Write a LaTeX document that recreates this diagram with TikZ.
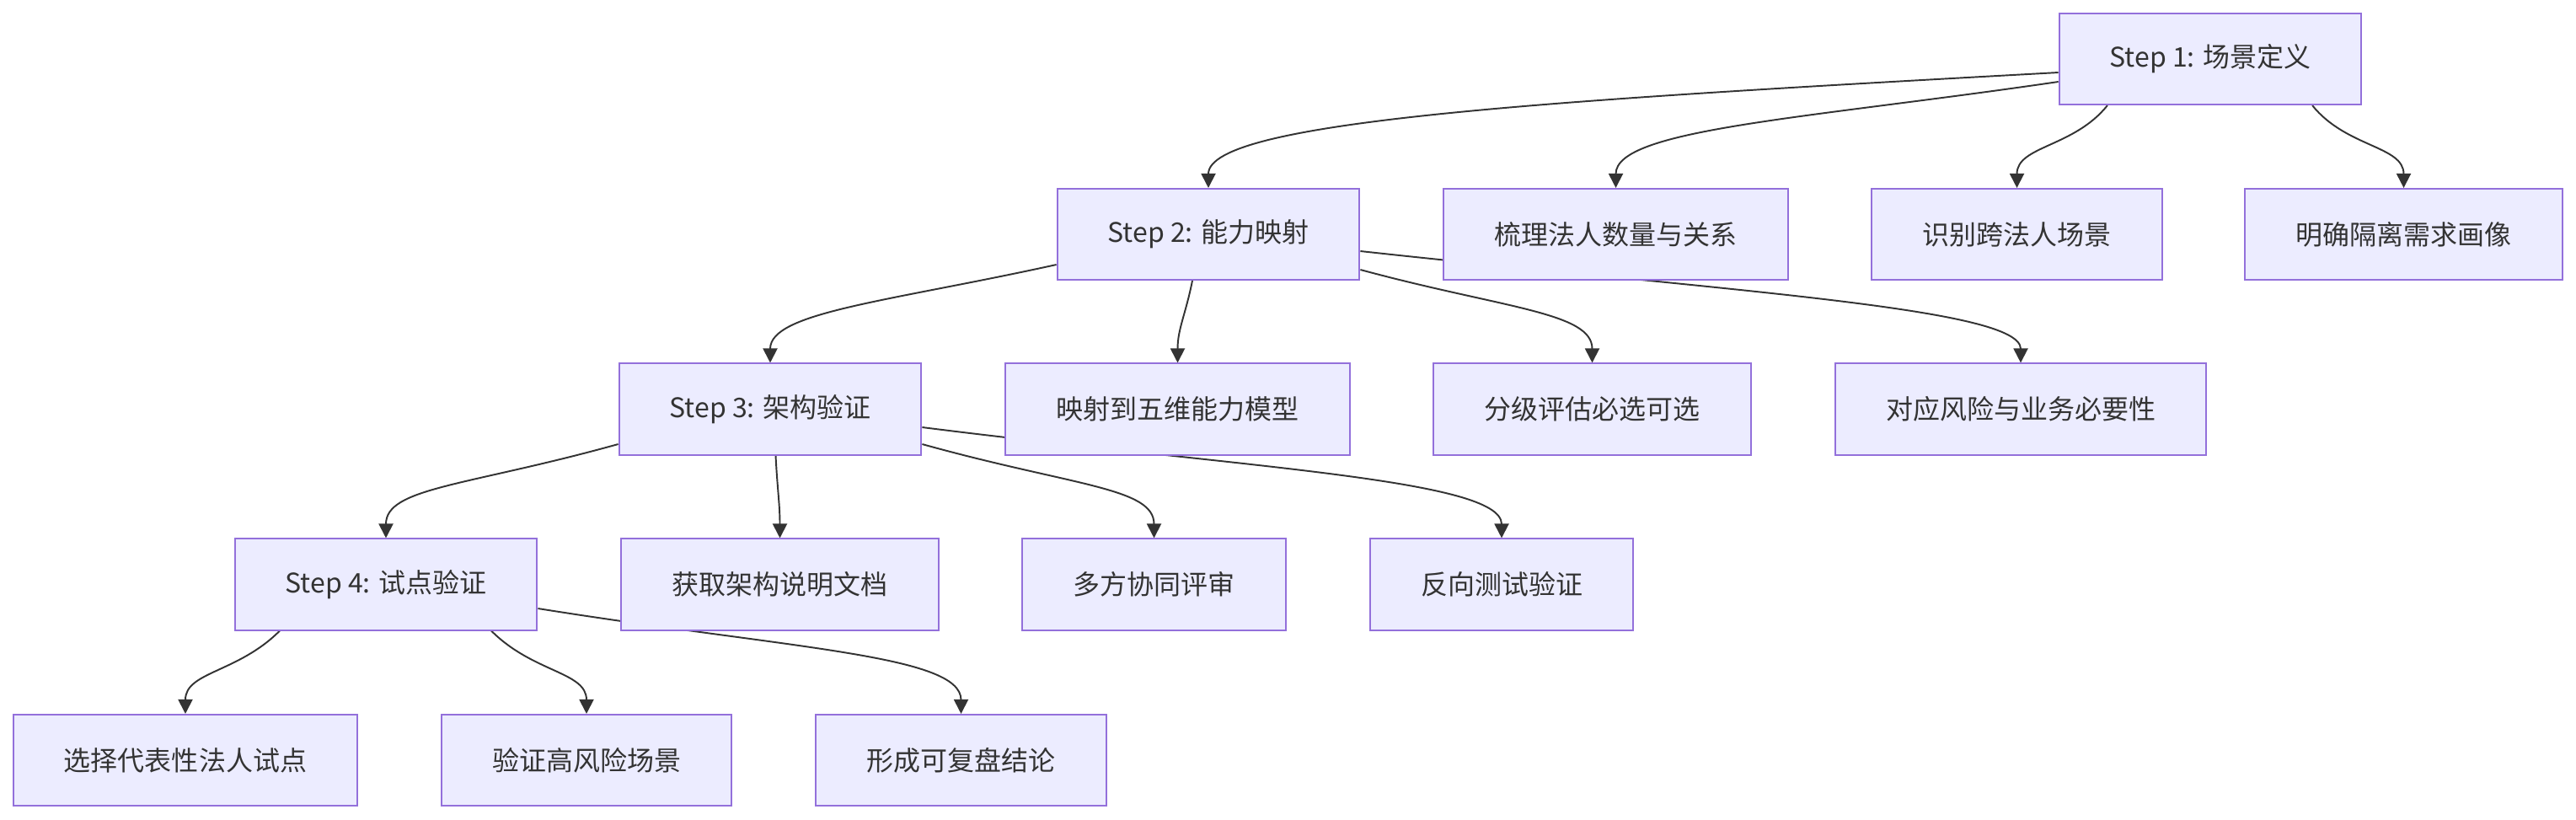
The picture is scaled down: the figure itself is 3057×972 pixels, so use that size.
\documentclass[tikz,border=0pt]{standalone}
\usepackage{fontspec}
\setmainfont{Noto Sans CJK SC}
\usepackage{xcolor}
\usetikzlibrary{arrows.meta,backgrounds}
\definecolor{boxfill}{HTML}{ECECFF}
\definecolor{boxline}{HTML}{9370DB}
\definecolor{inkgray}{HTML}{333333}

\begin{document}
\begin{tikzpicture}[
    x=0.01cm, y=-0.01cm,
    box style/.style={rectangle, draw=boxline, fill=boxfill, line width=0.57pt,
        minimum height=1.08cm, inner xsep=0.6cm, text=inkgray,
        font=\fontsize{9.1pt}{11pt}\selectfont},
    link/.style={draw=inkgray, line width=0.55pt,
        -{Triangle[length=0.17cm, width=0.17cm]}}
]

% page size of the reference (pixels)
\path[use as bounding box] (0,0) rectangle (3057,972);

\node[box style] (S1) at (2623, 70)    {Step 1: 场景定义};
\node[box style] (S2) at (1434, 278)   {Step 2: 能力映射};
\node[box style] (A1) at (1917.5, 278) {梳理法人数量与关系};
\node[box style] (A2) at (2393.5, 278) {识别跨法人场景};
\node[box style] (A3) at (2852.5, 278) {明确隔离需求画像};
\node[box style] (S3) at (914, 485.5)  {Step 3: 架构验证};
\node[box style] (B1) at (1397.5, 485.5) {映射到五维能力模型};
\node[box style] (B2) at (1889.5, 485.5) {分级评估必选可选};
\node[box style] (B3) at (2398, 485.5)   {对应风险与业务必要性};
\node[box style] (S4) at (458, 693.5)    {Step 4: 试点验证};
\node[box style] (C1) at (925.5, 693.5)  {获取架构说明文档};
\node[box style] (C2) at (1369.5, 693.5) {多方协同评审};
\node[box style] (C3) at (1782, 693.5)   {反向测试验证};
\node[box style] (D1) at (220, 902)    {选择代表性法人试点};
\node[box style] (D2) at (696, 902)    {验证高风险场景};
\node[box style] (D3) at (1140.5, 902) {形成可复盘结论};

\begin{scope}[on background layer]
\draw[link] ([yshift=-0.16cm]S1.west) .. controls +(-600,33) and +(0,-80) .. (S2.north);
\draw[link] ([yshift=-0.27cm]S1.west) .. controls +(-300,44) and +(0,-70) .. (A1.north);
\draw[link] ([xshift=-1.22cm]S1.south) .. controls +(-40,50) and +(0,-50) .. (A2.north);
\draw[link] ([xshift=1.21cm]S1.south) .. controls +(40,50) and +(0,-50) .. (A3.north);

\draw[link] ([yshift=-0.36cm]S2.west) .. controls +(-200,44) and +(0,-60) .. (S3.north);
\draw[link] ([xshift=-0.19cm]S2.south) .. controls +(-8,40) and +(0,-40) .. (B1.north);
\draw[link] ([yshift=-0.42cm]S2.east) .. controls +(170,46) and +(0,-60) .. (B2.north);
\draw[link] ([yshift=-0.20cm]S2.east) .. controls +(440,48) and +(0,-65) .. (B3.north);

\draw[link] ([yshift=-0.415cm]S3.west) .. controls +(-180,50) and +(0,-60) .. (S4.north);
\draw[link] ([xshift=0.065cm]S3.south) .. controls +(2,40) and +(0,-40) .. (C1.north);
\draw[link] ([yshift=-0.415cm]S3.east) .. controls +(180,50) and +(0,-60) .. (C2.north);
\draw[link] ([yshift=-0.215cm]S3.east) .. controls +(380,48) and +(0,-70) .. (C3.north);

\draw[link] ([xshift=-1.26cm]S4.south) .. controls +(-50,50) and +(0,-50) .. (D1.north);
\draw[link] ([xshift=1.25cm]S4.south) .. controls +(50,50) and +(0,-50) .. (D2.north);
\draw[link] ([yshift=-0.285cm]S4.east) .. controls +(300,48) and +(0,-70) .. (D3.north);
\end{scope}

\end{tikzpicture}
\end{document}
